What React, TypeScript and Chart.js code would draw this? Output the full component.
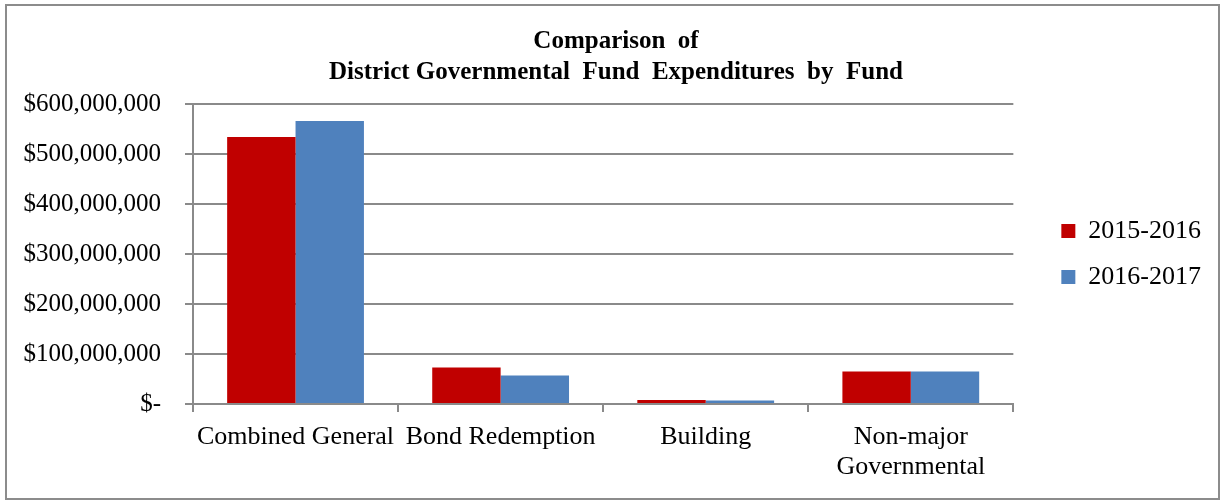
import React, { useEffect, useRef } from "react";
import { Chart, registerables } from "chart.js";

Chart.register(...registerables);

const categories: (string | string[])[] = [
  "Combined General",
  "Bond Redemption",
  "Building",
  ["Non-major", "Governmental"],
];
const seriesNames = ["2015-2016", "2016-2017"];
const values2015 = [534000000, 73000000, 8000000, 65000000];
const values2016 = [566000000, 57000000, 7000000, 65000000];
const titleLines = ["Comparison  of", "District Governmental  Fund  Expenditures  by  Fund"];
const yMin = 0;
const yMax = 600000000;
const yStep = 100000000;

const FONT = "'Liberation Serif', 'Times New Roman', serif";
const GRID = "#8a8a8a";

const framePlugin = {
  id: "frame",
  beforeDraw(chart: any) {
    const ctx = chart.ctx;
    ctx.save();
    ctx.fillStyle = "#ffffff";
    ctx.fillRect(0, 0, chart.width, chart.height);
    ctx.strokeStyle = "#8c8c8c";
    ctx.lineWidth = 2;
    ctx.strokeRect(6, 5, 1213, 494);
    ctx.restore();
  },
};

function formatMoney(v: number): string {
  if (v === 0) return "$-";
  return "$" + v.toLocaleString("en-US");
}

export default function App() {
  const ref = useRef<HTMLCanvasElement | null>(null);

  useEffect(() => {
    if (!ref.current) return;
    const chart = new Chart(ref.current, {
      type: "bar",
      data: {
        labels: categories,
        datasets: [
          {
            label: seriesNames[0],
            data: values2015,
            backgroundColor: "#C00000",
            borderWidth: 0,
            categoryPercentage: 0.667,
            barPercentage: 1,
          },
          {
            label: seriesNames[1],
            data: values2016,
            backgroundColor: "#4F81BD",
            borderWidth: 0,
            categoryPercentage: 0.667,
            barPercentage: 1,
          },
        ],
      },
      options: {
        animation: false,
        responsive: false,
        devicePixelRatio: 1,
        layout: { padding: { left: 21, right: 13, top: 0, bottom: 0 } },
        plugins: {
          title: {
            display: true,
            text: titleLines,
            color: "#000",
            font: { family: FONT, size: 25, weight: "bold", lineHeight: 31 / 25 },
            padding: { top: 26, bottom: 16 },
          },
          legend: {
            display: true,
            position: "right",
            align: "center",
            fullSize: false,
            labels: {
              color: "#000",
              font: { family: FONT, size: 26 },
              boxWidth: 14,
              boxHeight: 14,
              padding: 20,
            },
          },
          tooltip: { enabled: false },
        },
        scales: {
          x: {
            type: "category",
            grid: {
              display: true,
              offset: true,
              drawOnChartArea: false,
              drawTicks: true,
              tickLength: 8,
              color: GRID,
              lineWidth: 2,
            },
            border: { display: true, color: GRID, width: 2 },
            ticks: {
              color: "#000",
              font: { family: FONT, size: 26, lineHeight: 30 / 26 },
              padding: 10,
              maxRotation: 0,
              autoSkip: false,
            },
            afterFit(s: any) {
              s.height = 100;
            },
          },
          y: {
            type: "linear",
            min: yMin,
            max: yMax,
            ticks: {
              stepSize: yStep,
              color: "#000",
              font: { family: FONT, size: 25 },
              padding: 24,
              callback: (v: any) => formatMoney(Number(v)),
            },
            grid: {
              display: true,
              drawOnChartArea: true,
              drawTicks: true,
              tickLength: 8,
              color: GRID,
              lineWidth: 2,
            },
            border: { display: true, color: GRID, width: 2 },
            afterFit(s: any) {
              s.width = 172;
            },
          },
          spacer: {
            type: "linear",
            position: "right",
            display: true,
            grid: { display: false, drawTicks: false },
            border: { display: false },
            ticks: { display: false },
            afterFit(s: any) {
              s.width = 28;
            },
          },
        },
      } as any,
      plugins: [framePlugin],
    });
    return () => chart.destroy();
  }, []);

  return (
    <div style={{ position: "absolute", left: 0, top: 0, width: 1224, height: 504, background: "#fff" }}>
      <canvas ref={ref} width={1224} height={504} style={{ display: "block", width: 1224, height: 504 }} />
    </div>
  );
}
